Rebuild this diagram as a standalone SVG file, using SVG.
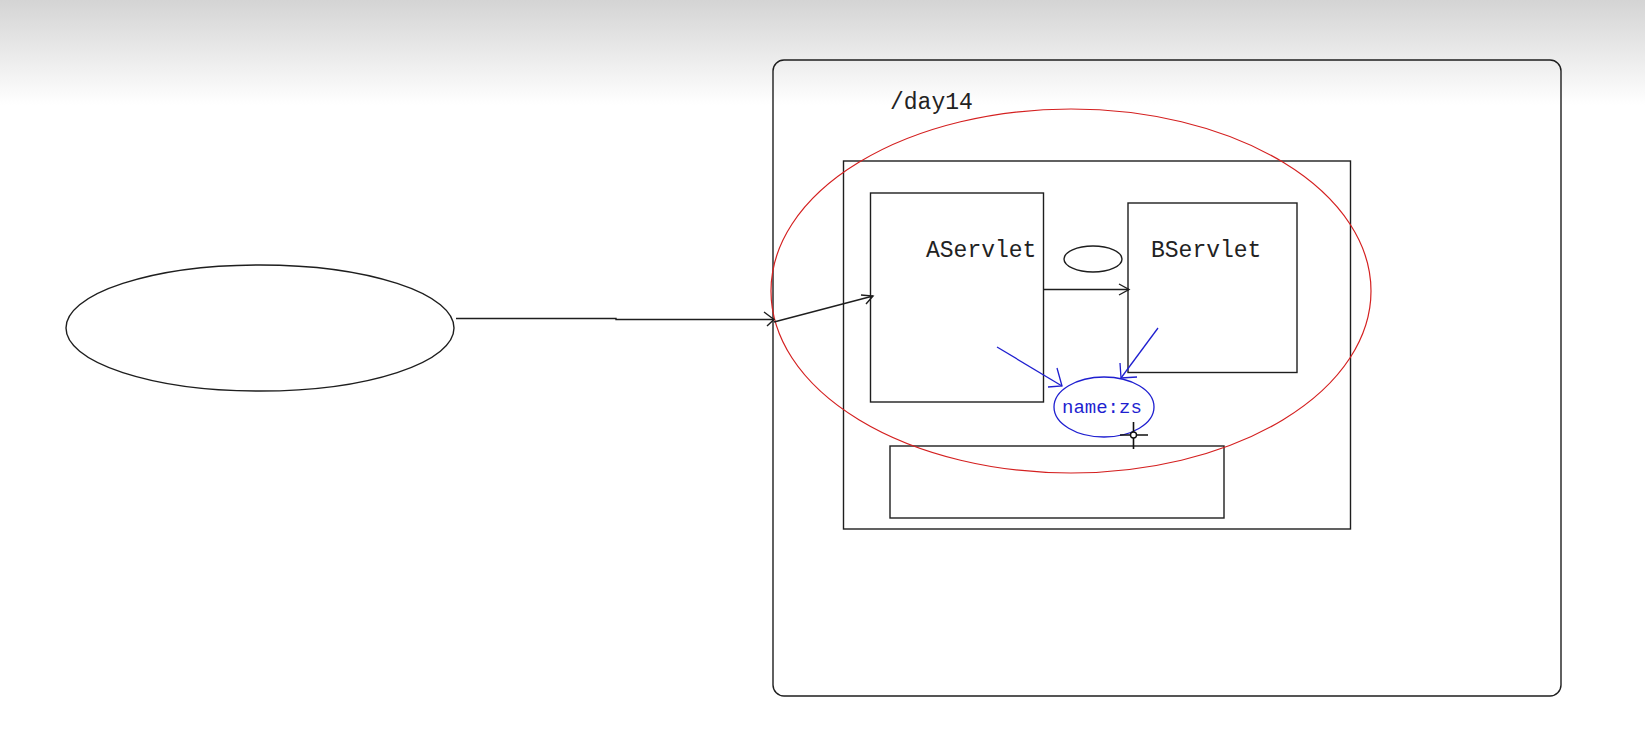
<svg xmlns="http://www.w3.org/2000/svg" width="1645" height="752" viewBox="0 0 1645 752">
<style>
.ln{fill:none;stroke:#1e1e1e;stroke-width:1.4}
.bl{fill:none;stroke:#1f1fd0;stroke-width:1.3}
.lbl{font-family:"Liberation Mono",monospace;font-size:23px;fill:#222}
.blt{font-family:"Liberation Mono",monospace;font-size:19px;fill:#1f1fd0}
</style>
<defs>
<linearGradient id="bg" x1="0" y1="0" x2="0" y2="1">
<stop offset="0" stop-color="#d4d4d4"/>
<stop offset="1" stop-color="#ffffff"/>
</linearGradient>
</defs>
<rect width="1645" height="752" fill="#ffffff"/>
<rect width="1645" height="105" fill="url(#bg)"/>
<g id="container">
<rect class="ln" x="773" y="60" width="788" height="636" rx="11" stroke-width="1.6"/>
<text class="lbl" x="890" y="109">/day14</text>
</g>
<g id="webapp">
<rect class="ln" x="843.5" y="161" width="507" height="368"/>
</g>
<g id="client">
<ellipse class="ln" cx="260" cy="328" rx="194" ry="63"/>
</g>
<g id="aservlet">
<rect class="ln" x="870.5" y="193" width="173" height="209"/>
<text class="lbl" x="926" y="257">AServlet</text>
</g>
<g id="bservlet">
<rect class="ln" x="1128" y="203" width="169" height="169.5"/>
<text class="lbl" x="1151" y="257">BServlet</text>
</g>
<g id="small-ellipse">
<ellipse class="ln" cx="1093" cy="259" rx="29" ry="13"/>
</g>
<g id="bottom-box">
<rect class="ln" x="890" y="446" width="334" height="72"/>
</g>
<g id="scope">
<ellipse cx="1071" cy="291" rx="300" ry="182" fill="none" stroke="#d42020" stroke-width="1.2"/>
</g>
<g id="attr">
<ellipse class="bl" cx="1104" cy="407" rx="50" ry="30"/>
<text class="blt" x="1062" y="413">name:zs</text>
</g>
<g id="connectors">
<path class="ln" d="M456 318.5 L616 318.5 L616 319.5 L774 319.5"/>
<path class="ln" d="M764 312 L774 319.5 L767 326"/>
<path class="ln" d="M774 322 L873 296"/>
<path class="ln" d="M861 295 L873 296 L866 304"/>
<path class="ln" d="M1043 289.5 L1129 289.5"/>
<path class="ln" d="M1119 284 L1129 289.5 L1119 295"/>
<path class="bl" d="M997 347 L1062 386"/>
<path class="bl" d="M1057 368 L1062 386 L1048 387"/>
<path class="bl" d="M1158 328 L1121 378"/>
<path class="bl" d="M1120 363 L1121 378 L1137 377"/>
</g>
<g id="cursor">
<path d="M1120 435 H1148 M1133.5 422 V449" stroke="#111" stroke-width="1.6" fill="none"/>
<circle cx="1133.5" cy="435" r="3" fill="#fff" stroke="#111" stroke-width="1.4"/>
</g>
</svg>
